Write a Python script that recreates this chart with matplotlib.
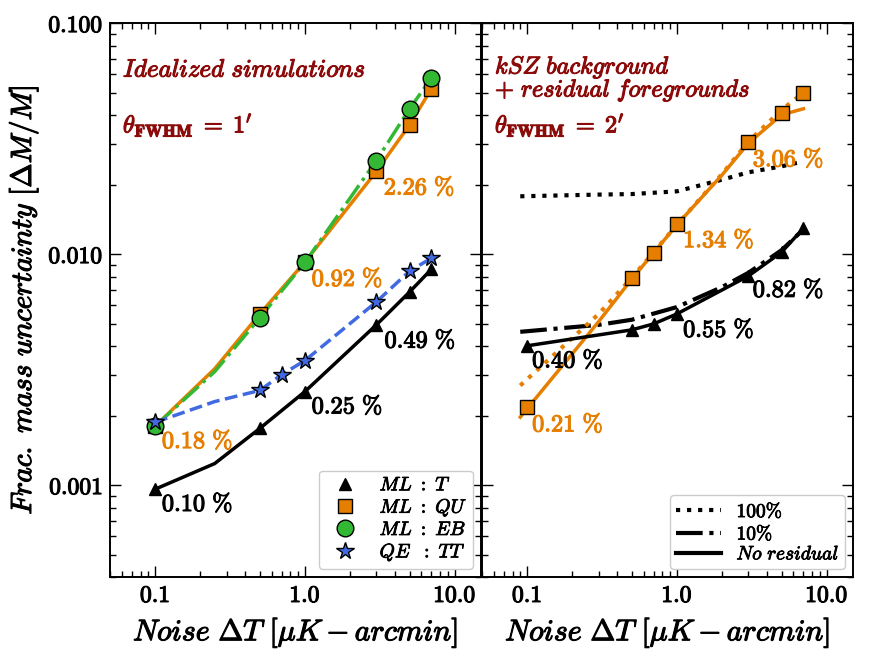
import matplotlib
matplotlib.use("Agg")
from matplotlib import pyplot as plt
from matplotlib import patheffects as pe
import numpy as np

plt.rcParams['mathtext.fontset'] = 'cm'
plt.rcParams['font.family'] = 'serif'
plt.rcParams['font.serif'] = ['DejaVu Serif']

ORANGE = '#e67e00'
GREEN = '#33b833'
BLUE = '#4169e1'
DRED = '#8b0a0a'

# ---- panel izquierdo: simulaciones idealizadas ----
noise_T = [0.1, 0.5, 1.0, 3.0, 5.0, 7.0]
ml_T = [0.00096, 0.00176, 0.00254, 0.00494, 0.00686, 0.00861]
line_x = [0.1, 0.25, 0.5, 1.0, 3.0, 5.0, 7.0]
ml_T_line = [0.00096, 0.00124, 0.00176, 0.00254, 0.00494, 0.00686, 0.00861]

noise_pol = [0.1, 0.5, 1.0, 3.0, 5.0, 7.0]
ml_QU = [0.00180, 0.00551, 0.00924, 0.0228, 0.0363, 0.0520]
ml_QU_line = [0.00180, 0.00319, 0.00551, 0.00924, 0.0228, 0.0363, 0.0520]
ml_EB = [0.00180, 0.0053, 0.0092, 0.0254, 0.0426, 0.0579]
ml_EB_line = [0.00180, 0.0031, 0.0053, 0.0092, 0.0254, 0.0426, 0.0579]

noise_qe = [0.1, 0.5, 0.7, 1.0, 3.0, 5.0, 7.0]
qe_TT = [0.00187, 0.00257, 0.00301, 0.00346, 0.00621, 0.00845, 0.00961]
qe_x_line = [0.1, 0.25, 0.5, 0.7, 1.0, 3.0, 5.0, 7.0]
qe_TT_line = [0.00187, 0.0023, 0.00257, 0.00301, 0.00346, 0.00621, 0.00845, 0.00961]

# ---- panel derecho: kSZ + residuos ----
noise_r = [0.1, 0.5, 0.7, 1.0, 3.0, 5.0, 7.0]
r_T = [0.00401, 0.00470, 0.00499, 0.00551, 0.00804, 0.0102, 0.01295]
r_QU = [0.00217, 0.00788, 0.0101, 0.01347, 0.0307, 0.0409, 0.0499]

fit_x = [0.09, 0.3, 0.5, 1.0, 2.0, 3.0, 5.0, 7.0]
T_100 = [0.0178, 0.0181, 0.0182, 0.0187, 0.0210, 0.0226, 0.0240, 0.0252]
T_10 = [0.00461, 0.00494, 0.0052, 0.0059, 0.0072, 0.0083, 0.0104, 0.0128]
QU_100 = [0.0027, 0.0055, 0.0079, 0.0134, 0.0222, 0.0307, 0.0421, 0.0500]
QU_none = [0.00197, 0.0051, 0.0078, 0.0134, 0.0220, 0.0302, 0.0401, 0.0426]

# etiquetas de porcentaje (x, y, texto, color)
labels_left = [(3.36, 0.0194, '2.26', ORANGE), (1.11, 0.0078, '0.92', ORANGE), (0.111, 0.00155, '0.18', ORANGE),
               (3.4, 0.00422, '0.49', 'k'), (1.11, 0.00219, '0.25', 'k'), (0.111, 0.000828, '0.10', 'k')]
labels_right = [(3.21, 0.0257, '3.06', ORANGE), (1.1, 0.01148, '1.34', ORANGE), (0.108, 0.00183, '0.21', ORANGE),
                (3.21, 0.0070, '0.82', 'k'), (1.1, 0.0047, '0.55', 'k'), (0.108, 0.00346, '0.40', 'k')]

fig = plt.figure(figsize=(8.71, 6.61), dpi=100)
ax1 = fig.add_axes([0.1263, 0.127, 0.426, 0.838])
ax2 = fig.add_axes([0.5534, 0.127, 0.426, 0.838])

def negrita(color='k', w=0.8):
    return [pe.withStroke(linewidth=w, foreground=color)]

def estilo(ax):
    ax.set_xscale('log')
    ax.set_yscale('log')
    ax.set_xlim(0.05, 15)
    ax.set_ylim(4e-4, 0.1)
    ax.tick_params(which='both', direction='in', top=True, right=True, width=1.0)
    ax.tick_params(which='major', length=8)
    ax.tick_params(axis='x', which='major', pad=5)
    ax.tick_params(which='minor', length=4)
    ax.set_xticks([0.1, 1.0, 10.0])
    ax.set_xticklabels([r'$\mathbf{0.1}$', r'$\mathbf{1.0}$', r'$\mathbf{10.0}$'], fontsize=17)
    for t in ax.get_xticklabels():
        t.set_path_effects(negrita())
    ax.set_xlabel(r'$Noise\ \Delta T\ [\mu K - arcmin]$', fontsize=21.5, labelpad=6)
    ax.xaxis.label.set_path_effects(negrita())
    for s in ax.spines.values():
        s.set_linewidth(1.4)

estilo(ax1)
estilo(ax2)
ax1.set_yticks([0.001, 0.01, 0.1])
ax1.set_yticklabels([r'$\mathbf{0.001}$', r'$\mathbf{0.010}$', r'$\mathbf{0.100}$'], fontsize=17)
for t in ax1.get_yticklabels():
    t.set_path_effects(negrita())
ax1.tick_params(axis='y', which='major', pad=5)
ax2.set_yticks([0.001, 0.01, 0.1])
ax2.set_yticklabels([])
ax1.set_ylabel(r'$Frac.\ mass\ uncertainty\ [\Delta M/M]$', fontsize=21, labelpad=6)
ax1.yaxis.label.set_path_effects(negrita())

# lineas panel izquierdo
ax1.plot(line_x, ml_QU_line, '-', color=ORANGE, lw=2.5)
ax1.plot(line_x, ml_EB_line, '-.', color=GREEN, lw=2.5)
ax1.plot(qe_x_line, qe_TT_line, '--', color=BLUE, lw=2.5)
ax1.plot(line_x, ml_T_line, '-', color='k', lw=2.5)
ax1.plot(noise_T, ml_T, '^', color='k', ms=9, ls='none', label=r'$ML\ :\ T$')
ax1.plot(noise_pol, ml_QU, 's', color=ORANGE, mec='k', ms=10, ls='none', label=r'$ML\ :\ QU$')
ax1.plot(noise_pol, ml_EB, 'o', color=GREEN, mec='k', ms=12, ls='none', label=r'$ML\ :\ EB$')
ax1.plot(noise_qe, qe_TT, '*', color=BLUE, mec='k', ms=13, ls='none', label=r'$QE\ \ :\ TT$')

leg1 = ax1.legend(loc='lower right', fontsize=14, handletextpad=0.8, borderpad=0.3,
                  labelspacing=0.12, fancybox=True, framealpha=1.0, borderaxespad=0.4)
leg1.get_frame().set_edgecolor('0.8')
for t in leg1.get_texts():
    t.set_path_effects(negrita(w=0.6))

# lineas panel derecho
ax2.plot(fit_x, T_100, ':', color='k', lw=3)
ax2.plot(fit_x, T_10, '-.', color='k', lw=3)
ax2.plot(fit_x, QU_100, ':', color=ORANGE, lw=3)
ax2.plot(fit_x, QU_none, '-', color=ORANGE, lw=2.5)
ax2.plot(noise_r, r_T, '^-', color='k', ms=9, lw=2.5)
ax2.plot(noise_r, r_QU, 's', color=ORANGE, mec='k', ms=10, ls='none')

h1, = ax2.plot([], [], ':', color='k', lw=3, label=r'$\mathbf{100\%}$')
h2, = ax2.plot([], [], '-.', color='k', lw=3, label=r'$\mathbf{10\%}$')
h3, = ax2.plot([], [], '-', color='k', lw=3, label=r'$No\ residual$')
leg2 = ax2.legend(handles=[h1, h2, h3], loc='lower right', fontsize=14, handlelength=2.3,
                  borderpad=0.3, labelspacing=0.1, fancybox=True, framealpha=1.0, borderaxespad=0.4)
leg2.get_frame().set_edgecolor('0.8')
for t in leg2.get_texts():
    t.set_path_effects(negrita(w=0.6))

# textos
t = ax1.text(0.035, 0.915, r'$Idealized\ simulations$', transform=ax1.transAxes, color=DRED,
             fontsize=18, va='center')
t.set_path_effects(negrita(DRED))
t = ax1.text(0.035, 0.816, r'$\theta_{\mathbf{FWHM}}\;=\;\mathbf{1}^{\prime}$', transform=ax1.transAxes,
             color=DRED, fontsize=17.5, va='center')
t.set_path_effects(negrita(DRED))
t = ax2.text(0.035, 0.90, '$kSZ\\ background$\n$+\\ residual\\ foregrounds$', transform=ax2.transAxes,
             color=DRED, fontsize=17.5, va='center', linespacing=0.8)
t.set_path_effects(negrita(DRED))
t = ax2.text(0.035, 0.816, r'$\theta_{\mathbf{FWHM}}\;=\;\mathbf{2}^{\prime}$', transform=ax2.transAxes,
             color=DRED, fontsize=17.5, va='center')
t.set_path_effects(negrita(DRED))

for ax, etiquetas in [(ax1, labels_left), (ax2, labels_right)]:
    for x, y, s, c in etiquetas:
        t = ax.text(x, y, r'$\mathbf{' + s + r'\ \%}$', color=c, fontsize=17.5, va='center')
        t.set_path_effects(negrita(c))

plt.savefig('out.png', dpi=100)
